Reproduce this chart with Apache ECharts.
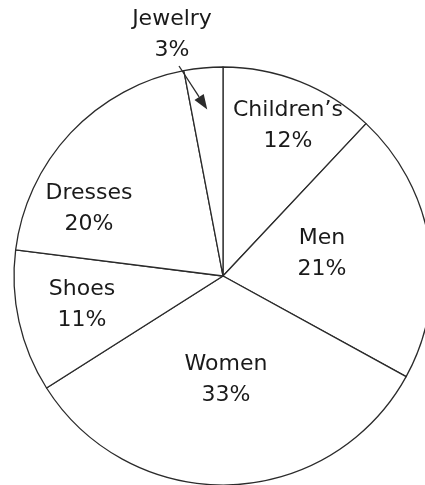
<!DOCTYPE html>
<html><head><meta charset="utf-8">
<script src="https://cdn.jsdelivr.net/npm/echarts@6/dist/echarts.min.js"></script>
<style>html,body{margin:0;padding:0;background:#fff}#c{width:425px;height:485px}</style>
</head><body><div id="c"></div>
<script>
// Data
const categories = ['Children’s', 'Men', 'Women', 'Shoes', 'Dresses', 'Jewelry'];
const shares = [12, 21, 33, 11, 20, 3];

// Layout (label anchor points, pixels)
const labelSpots = [[288, 126], [322, 254], [226, 380], [82, 305], [89, 209], [172, 35]];
const pieCenter = [223, 276], pieRadius = 209;

const chart = echarts.init(document.getElementById('c'), null, {renderer: 'canvas'});
const textStyle = {color: '#1a1a1a', fontFamily: 'DejaVu Sans', fontSize: 22, lineHeight: 31};

// arrow for Jewelry callout: points to the middle of the last slice
const total = shares.reduce((a, b) => a + b, 0);
const before = shares.slice(0, shares.length - 1).reduce((a, b) => a + b, 0);
const midFrac = (before + shares[shares.length - 1] / 2) / total;
const ang = midFrac * 2 * Math.PI; // clockwise from top
const tipR = pieRadius * 0.8;
const tip = [pieCenter[0] + Math.sin(ang) * tipR, pieCenter[1] - Math.cos(ang) * tipR];
const tail = [179, 66];
const dx = tip[0] - tail[0], dy = tip[1] - tail[1];
const len = Math.hypot(dx, dy), ux = dx / len, uy = dy / len;
const headLen = 15, headHalf = 5.5;
const base = [tip[0] - ux * headLen, tip[1] - uy * headLen];

chart.setOption({
  animation: false,
  backgroundColor: '#fff',
  series: [{
    type: 'pie',
    center: pieCenter,
    radius: pieRadius,
    startAngle: 90,
    clockwise: true,
    avoidLabelOverlap: false,
    silent: true,
    itemStyle: {color: '#fff', borderColor: '#2b2b2b', borderWidth: 1.3},
    label: Object.assign({show: true, position: 'inside', formatter: '{b}\n{c}%', align: 'center'}, textStyle),
    labelLine: {show: false},
    labelLayout: function (params) {
      const p = labelSpots[params.dataIndex];
      return {x: p[0], y: p[1], align: 'center', verticalAlign: 'middle'};
    },
    emphasis: {disabled: true},
    data: categories.map((n, i) => ({name: n, value: shares[i]}))
  }],
  graphic: [
    {type: 'line', shape: {x1: tail[0], y1: tail[1], x2: base[0], y2: base[1]}, style: {stroke: '#2b2b2b', lineWidth: 1.3}, z: 100},
    {type: 'polygon', shape: {points: [tip, [base[0] + uy * headHalf, base[1] - ux * headHalf], [base[0] - uy * headHalf, base[1] + ux * headHalf]]}, style: {fill: '#2b2b2b'}, z: 100}
  ]
});
</script>
</body></html>
